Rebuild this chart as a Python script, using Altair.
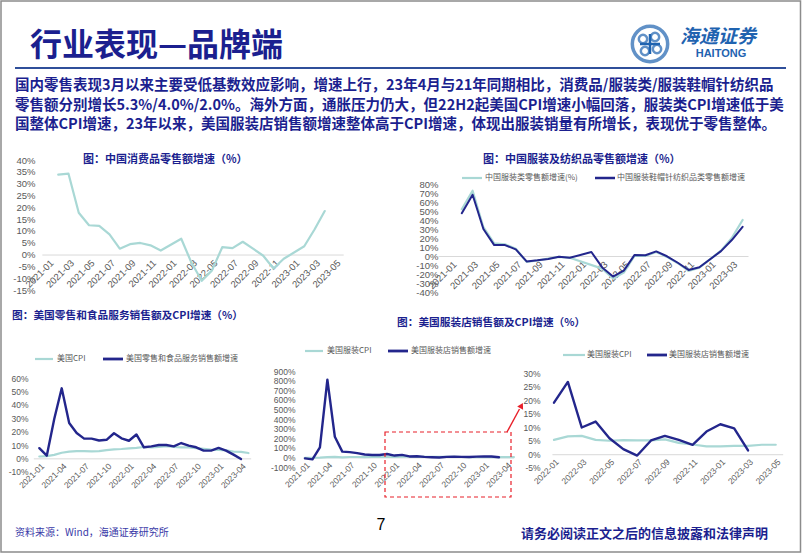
import altair as alt
import pandas as pd

W, H = 802, 554
CJK = "Noto Sans CJK SC"
LAT = "Liberation Sans"
NAVY = "#1b1f8f"
DARK = "#23268c"
LIGHT = "#a9d8d5"
GRAY = "#595959"
AXISC = "#d9d9d9"
RED = "#e8202a"
LOGO = "#1f63b0"

# ---------------- data ----------------
# Chart 1: China consumer goods retail sales growth (%)
cn_months = ["2021-02", "2021-03", "2021-04", "2021-05", "2021-06", "2021-07", "2021-08",
             "2021-09", "2021-10", "2021-11", "2021-12", "2022-02", "2022-03", "2022-04",
             "2022-05", "2022-06", "2022-07", "2022-08", "2022-09", "2022-10", "2022-11",
             "2022-12", "2023-02", "2023-03", "2023-04"]
cn_retail = [33.8, 34.2, 17.7, 12.4, 12.1, 8.5, 2.5, 4.4, 4.9, 3.9, 1.7, 6.7, -3.5, -11.1,
             -6.7, 3.1, 2.7, 5.4, 2.5, -0.5, -5.9, -1.8, 3.5, 10.6, 18.4]

# Chart 2: China apparel retail sales growth (%)
cn_apparel_cat = [52.0, 72.5, 32.0, 14.0, 13.0, 8.0, -6.5, -5.0, -3.0, -1.0, -2.0, None, -14.0,
                  -25.0, -18.5, 0.5, 0.0, 4.5, -1.0, -8.0, -16.5, -13.0, 6.0, 20.0, 40.0]
cn_apparel_all = [47.5, 68.0, 30.0, 12.1, 12.1, 7.4, -6.0, -4.8, -3.3, -0.9, -2.0, 4.4, -12.7,
                  -22.8, -16.2, 1.2, 0.8, 5.1, -0.3, -7.5, -15.6, -12.5, 5.4, 17.7, 32.4]
cn_names = ["中国服装类零售额增速(%)", "中国服装鞋帽针纺织品类零售额增速"]

# Charts 3-5: US series
us_months = ["2021-01", "2021-02", "2021-03", "2021-04", "2021-05", "2021-06", "2021-07",
             "2021-08", "2021-09", "2021-10", "2021-11", "2021-12", "2022-01", "2022-02",
             "2022-03", "2022-04", "2022-05", "2022-06", "2022-07", "2022-08", "2022-09",
             "2022-10", "2022-11", "2022-12", "2023-01", "2023-02", "2023-03", "2023-04",
             "2023-05"]
us_cpi = [1.4, 1.7, 2.6, 4.2, 5.0, 5.4, 5.4, 5.3, 5.4, 6.2, 6.8, 7.0, 7.5, 7.9, 8.5, 8.3, 8.6,
          9.1, 8.5, 8.3, 8.2, 7.7, 7.1, 6.5, 6.4, 6.0, 5.0, 4.9, 4.0]
us_retail = [7.6, 2.0, 29.5, 52.5, 26.5, 19.0, 14.8, 14.8, 13.4, 13.9, 18.8, 15.0, 13.2, 17.9,
             8.3, 9.0, 10.0, 10.0, 9.0, 11.5, 9.6, 8.3, 5.8, 5.8, 7.8, 5.8, 2.8, -0.5]
us_apparel_cpi = [-3.6, -3.6, -2.5, 2.0, 5.6, 0.7, 4.2, 4.2, 3.4, 4.3, 5.0, 5.8, 5.3, 6.6, 6.8,
                  5.3, 5.0, 5.2, 5.1, 5.1, 5.5, 4.2, 3.6, 2.9, 2.9, 3.1, 3.1, 3.5, 3.5]
us_apparel_store = [-10.0, -20.0, 105.0, 810.0, 215.0, 60.0, 55.0, 45.0, 30.0, 25.0, 25.0, 35.0,
                    19.1, 26.8, 9.9, 12.1, 5.9, 1.9, -0.5, 5.1, 6.8, 5.3, 3.5, 8.4, 11.1, 9.6, 1.4]

# text content
title_main = "行业表现—品牌端"
para = ["国内零售表现3月以来主要受低基数效应影响，增速上行，23年4月与21年同期相比，消费品/服装类/服装鞋帽针纺织品",
        "零售额分别增长5.3%/4.0%/2.0%。海外方面，通胀压力仍大，但22H2起美国CPI增速小幅回落，服装类CPI增速低于美",
        "国整体CPI增速，23年以来，美国服装店销售额增速整体高于CPI增速，体现出服装销量有所增长，表现优于零售整体。"]
t1 = "图：中国消费品零售额增速（%）"
t2 = "图：中国服装及纺织品零售额增速（%）"
t3 = "图：美国零售和食品服务销售额及CPI增速（%）"
t4 = "图：美国服装店销售额及CPI增速（%）"
us_names3 = ["美国CPI", "美国零售和食品服务销售额增速"]
us_names4 = ["美国服装CPI", "美国服装店销售额增速"]
source = "资料来源：Wind，海通证券研究所"
disclaimer = "请务必阅读正文之后的信息披露和法律声明"
page_no = "7"


def midx(s):
    y, m = s.split("-")
    return (int(y) - 2021) * 12 + int(m) - 1


def frame(months, values, lo=None, hi=None):
    df = pd.DataFrame({"m": [midx(s) for s in months[:len(values)]], "v": values}).dropna()
    if lo is not None:
        df = df[df["m"] >= lo]
    if hi is not None:
        df = df[df["m"] <= hi]
    return df


MONTH_EXPR = ("toString(2021 + floor(datum.value / 12)) + '-' + "
              "(datum.value % 12 < 9 ? '0' : '') + toString(datum.value % 12 + 1)")


def panel(series, p):
    i0, x0, dx = p["i0"], p["x0"], p["dx"]
    a, b = p["xdom"]
    xr = [x0 + (a - i0) * dx, x0 + (b - i0) * dx]
    (v1, y1), (v2, y2) = p["ycal"]

    def yp(v):
        return y1 + (v - v1) * (y2 - y1) / (v2 - v1)

    ylo, yhi = p["ydom"]
    zero_y = yp(0)
    xenc = alt.X("m:Q",
                 scale=alt.Scale(domain=[a, b], range=xr, nice=False, zero=False),
                 axis=alt.Axis(orient="bottom", offset=zero_y - H, values=p["xvals"],
                               labelExpr=MONTH_EXPR, labelAngle=-45, labelAlign="right",
                               labelBaseline="top", labelPadding=3, labelFlush=False,
                               labelOverlap=False, labelFont=LAT, labelFontSize=p["fs"],
                               labelColor=GRAY, ticks=False, tickSize=0, grid=False,
                               domainColor=AXISC, domainWidth=1, title=None))
    yenc = alt.Y("v:Q",
                 scale=alt.Scale(domain=[ylo, yhi], range=[yp(ylo), yp(yhi)], nice=False, zero=False),
                 axis=alt.Axis(orient="left", offset=-p["ylab"], values=p["yvals"],
                               labelExpr="datum.value + '%'", domain=False, ticks=False,
                               tickSize=0, grid=False, labelPadding=0, labelFont=LAT,
                               labelFontSize=p["fs"], labelColor=GRAY, labelFlush=False,
                               labelOverlap=False, title=None))
    layers = []
    for df, color, width in series:
        layers.append(alt.Chart(df).mark_line(color=color, strokeWidth=width,
                                              strokeJoin="round", strokeCap="round")
                      .encode(x=xenc, y=yenc))
    if len(layers) == 1:
        return layers[0]
    return alt.layer(*layers)


def one():
    return pd.DataFrame({"k": [0]})


def text(s, x, y, size, color, weight="normal", align="left", font=CJK, style="normal",
         baseline="middle"):
    return alt.Chart(pd.DataFrame({"t": [s]})).mark_text(
        align=align, baseline=baseline, fontSize=size, font=font, fontWeight=weight,
        color=color, fontStyle=style).encode(x=alt.value(x), y=alt.value(y), text="t:N")


def hline(x1, x2, y, color, width, dash=None):
    kw = dict(color=color, strokeWidth=width)
    if dash:
        kw["strokeDash"] = dash
    return alt.Chart(one()).mark_rule(**kw).encode(
        x=alt.value(x1), x2=alt.value(x2), y=alt.value(y))


def legend(items, y):
    out = []
    for (xs, xe, xt, name, color, w) in items:
        out.append(hline(xs, xe, y, color, w))
        out.append(text(name, xt, y, 8, GRAY))
    return out


# ---------------- panels ----------------
p1 = dict(i0=0, x0=48, dx=10.25, xdom=(-0.6, 28.8), ycal=((40, 160), (-15, 290)),
          ydom=(-15, 40), xvals=list(range(0, 29, 2)), yvals=list(range(-15, 41, 5)),
          ylab=35, fs=9.5)
p2 = dict(i0=0, x0=451, dx=10.8, xdom=(-1.2, 27.5), ycal=((80, 184), (-40, 292)),
          ydom=(-40, 80), xvals=list(range(0, 27, 2)), yvals=list(range(-40, 81, 10)),
          ylab=438, fs=9.5)
p3 = dict(i0=0, x0=39.3, dx=7.47, xdom=(-0.8, 28.3), ycal=((60, 378.3), (-10, 471.7)),
          ydom=(-10, 60), xvals=list(range(0, 28, 3)), yvals=list(range(-10, 61, 10)),
          ylab=28, fs=8.5)
p4 = dict(i0=0, x0=305, dx=7.46, xdom=(-0.3, 28.0), ycal=((900, 371), (-100, 467)),
          ydom=(-100, 900), xvals=list(range(0, 28, 3)), yvals=list(range(-100, 901, 100)),
          ylab=295, fs=8.5)
p5 = dict(i0=12, x0=554, dx=13.86, xdom=(11.85, 28.5), ycal=((30, 373.3), (-5, 467.7)),
          ydom=(-5, 30), xvals=list(range(12, 29, 2)), yvals=list(range(-5, 31, 5)),
          ylab=540, fs=8.5)

c1 = panel([(frame(cn_months, cn_retail), LIGHT, 2.2)], p1)
c2 = panel([(frame(cn_months, cn_apparel_cat), LIGHT, 2.2),
            (frame(cn_months, cn_apparel_all), DARK, 2.0)], p2)
c3 = panel([(frame(us_months, us_cpi), LIGHT, 2.2),
            (frame(us_months, us_retail), DARK, 2.4)], p3)
c4 = panel([(frame(us_months, us_apparel_cpi), LIGHT, 2.2),
            (frame(us_months, us_apparel_store), DARK, 2.4)], p4)
c5 = panel([(frame(us_months, us_apparel_cpi, lo=12), LIGHT, 2.2),
            (frame(us_months, us_apparel_store, lo=12), DARK, 2.4)], p5)

# ---------------- decorations & text ----------------
deco = []
deco.append(alt.Chart(one()).mark_rect(fill="transparent", stroke="#8c8c8c", strokeWidth=1.5)
            .encode(x=alt.value(1), x2=alt.value(800.5), y=alt.value(1), y2=alt.value(552)))
deco.append(text(title_main, 30, 46, 32, NAVY, weight="bold"))
deco.append(hline(15, 786, 68, "#2f4f9a", 2))
for i, line in enumerate(para):
    deco.append(text(line, 15, 86 + i * 19.5, 14.5, NAVY, weight="bold"))

# logo
deco.append(alt.Chart(one()).mark_point(shape="circle", size=1250, filled=False, strokeWidth=3.5,
                                        color=LOGO).encode(x=alt.value(650), y=alt.value(44)))
for dxl, dyl in [(-7, -5), (7, 5), (5, -7), (-5, 7)]:
    deco.append(alt.Chart(one()).mark_point(shape="circle", size=70, filled=False, strokeWidth=2.5,
                                            color=LOGO).encode(x=alt.value(650 + dxl), y=alt.value(44 + dyl)))
deco.append(hline(640, 660, 44, LOGO, 2.5))
deco.append(alt.Chart(one()).mark_rule(color=LOGO, strokeWidth=2.5).encode(
    x=alt.value(650), y=alt.value(34), y2=alt.value(54)))
deco.append(text("海通证券", 680, 37, 19, LOGO, weight="bold", style="italic"))
deco.append(text("HAITONG", 721, 54, 11, LOGO, weight="bold", align="center", font=LAT))

# chart titles
deco.append(text(t1, 83, 160, 11, NAVY, weight="bold"))
deco.append(text(t2, 483, 160, 11, NAVY, weight="bold"))
deco.append(text(t3, 12, 316, 10.7, NAVY, weight="bold"))
deco.append(text(t4, 397, 323, 10.7, NAVY, weight="bold"))

# legends
deco += legend([(462, 482, 485, cn_names[0], LIGHT, 2.2), (595, 615, 617, cn_names[1], DARK, 2.5)], 178)
deco += legend([(35, 53, 57, us_names3[0], LIGHT, 2.2), (103, 123, 126, us_names3[1], DARK, 2.8)], 359)
deco += legend([(305, 323, 327, us_names4[0], LIGHT, 2.2), (388, 408, 411, us_names4[1], DARK, 2.8)], 351)
deco += legend([(563, 585, 587, us_names4[0], LIGHT, 2.2), (647, 667, 669, us_names4[1], DARK, 2.8)], 355)

# zoom box and arrow
deco.append(alt.Chart(one()).mark_rect(fill="transparent", stroke=RED, strokeWidth=1.2,
                                       strokeDash=[4, 3])
            .encode(x=alt.value(385), x2=alt.value(511), y=alt.value(432), y2=alt.value(497)))
deco.append(alt.Chart(one()).mark_rule(color=RED, strokeWidth=1.4).encode(
    x=alt.value(507), x2=alt.value(519.5), y=alt.value(432), y2=alt.value(409)))
deco.append(alt.Chart(one()).mark_point(shape="triangle-up", filled=True, size=45, angle=28,
                                        color=RED, opacity=1)
            .encode(x=alt.value(521.5), y=alt.value(405.5)))

# footer
deco.append(text(source, 15, 533, 10, "#3a3aa8"))
deco.append(text(page_no, 381, 525, 16, "#000000", align="center", font=LAT))
deco.append(text(disclaimer, 768, 534, 13, NAVY, weight="bold", align="right"))

chart = alt.layer(c1, c2, c3, c4, c5, *deco).resolve_scale(
    x="independent", y="independent"
).resolve_axis(
    x="independent", y="independent"
).properties(
    width=W, height=H, padding=0, background="white",
    autosize=alt.AutoSizeParams(type="none")
).configure_view(stroke=None)

chart.save("out.html", embed_options={"renderer": "svg", "actions": False})
